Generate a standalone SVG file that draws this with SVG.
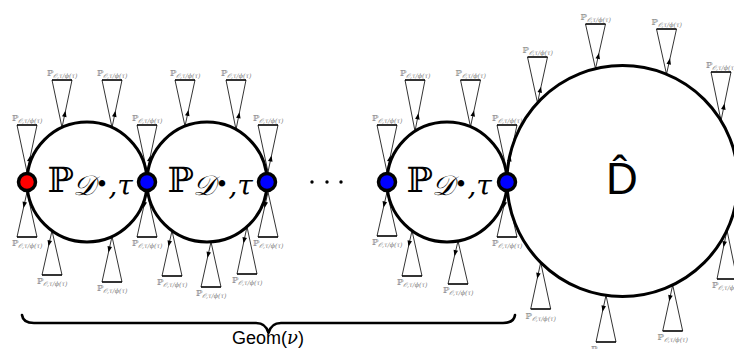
<svg xmlns="http://www.w3.org/2000/svg" width="734" height="349" viewBox="0 0 734 349">
<style>
.bg{fill:#fff}
.c{fill:none;stroke:#000;stroke-width:3}
.nd{stroke:#000;stroke-width:3.5}
.red{fill:#f00}
.blue{fill:#00f}
.s{fill:none;stroke:#000;stroke-width:0.8}
.a{marker-mid:url(#ah)}
.b{fill:none;stroke:#000;stroke-width:1.6}
.lb{font-family:"DejaVu Serif","DejaVu Sans",serif;fill:#808080;text-anchor:middle}
.lp{font-size:8.5px}
.ls{font-size:6.3px;font-style:italic}
.ml{font-family:"DejaVu Serif","DejaVu Sans",serif;fill:#000;text-anchor:middle}
.mp{font-size:35px}
.ms{font-size:28px;font-style:italic}
.mb{font-size:22px}
.dot{fill:#000}
.brace{fill:none;stroke:#000;stroke-width:2.6;stroke-linecap:round;stroke-linejoin:round}
</style>
<defs>
<marker id="ah" viewBox="-6 -3 7 6" refX="0" refY="0" markerWidth="7" markerHeight="6" markerUnits="userSpaceOnUse" orient="auto">
<path d="M1,0 L-5,-2.3 L-5,2.3 Z" fill="#000"/>
</marker>
</defs>
<rect class="bg" width="734" height="349"/>

<g id="cones">
<path class="s" d="M17 125L27 172"/><path class="s a" d="M27 172L30.3 156.5L37 125"/><path class="b" d="M17 125H37"/>
<path class="s" d="M52 80L62 127.5"/><path class="s a" d="M62 127.5L65.3 111.8L72 80"/><path class="b" d="M52 80H72"/>
<path class="s" d="M102 80L112 127.5"/><path class="s a" d="M112 127.5L115.3 111.8L122 80"/><path class="b" d="M102 80H122"/>
<path class="s" d="M137 125L147 172"/><path class="s a" d="M147 172L150.3 156.5L157 125"/><path class="b" d="M137 125H157"/>
<path class="s" d="M175 80L185 126.2"/><path class="s a" d="M185 126.2L188.3 110.9L195 80"/><path class="b" d="M175 80H195"/>
<path class="s" d="M226 80L236 129.5"/><path class="s a" d="M236 129.5L239.3 113.2L246 80"/><path class="b" d="M226 80H246"/>
<path class="s" d="M258 125L268 172"/><path class="s a" d="M268 172L271.3 156.5L278 125"/><path class="b" d="M258 125H278"/>
<path class="s" d="M377 125L387 172"/><path class="s a" d="M387 172L390.3 156.5L397 125"/><path class="b" d="M377 125H397"/>
<path class="s" d="M405 80L415 131.2"/><path class="s a" d="M415 131.2L418.3 114.3L425 80"/><path class="b" d="M405 80H425"/>
<path class="s" d="M460.5 80L470.5 126.8"/><path class="s a" d="M470.5 126.8L473.8 111.4L480.5 80"/><path class="b" d="M460.5 80H480.5"/>
<path class="s" d="M497 125L507 172"/><path class="s a" d="M507 172L510.3 156.5L517 125"/><path class="b" d="M497 125H517"/>
<path class="s" d="M527.5 57L537.5 102.8"/><path class="s a" d="M537.5 102.8L540.8 87.7L547.5 57"/><path class="b" d="M527.5 57H547.5"/>
<path class="s" d="M585.5 24L595.5 68.7"/><path class="s a" d="M595.5 68.7L598.8 53.9L605.5 24"/><path class="b" d="M585.5 24H605.5"/>
<path class="s" d="M656.5 29L666.5 74.2"/><path class="s a" d="M666.5 74.2L669.8 59.3L676.5 29"/><path class="b" d="M656.5 29H676.5"/>
<path class="s" d="M711 72L721 120.7"/><path class="s a" d="M721 120.7L724.3 104.6L731 72"/><path class="b" d="M711 72H731"/>
<path class="s" d="M37 237L27 192"/><path class="s a" d="M27 192L23.7 206.9L17 237"/><path class="b" d="M17 237H37"/>
<path class="s" d="M62 275L52 230.7"/><path class="s a" d="M52 230.7L48.7 245.3L42 275"/><path class="b" d="M42 275H62"/>
<path class="s" d="M122 282L112 236.5"/><path class="s a" d="M112 236.5L108.7 251.5L102 282"/><path class="b" d="M102 282H122"/>
<path class="s" d="M157 237L147 192"/><path class="s a" d="M147 192L143.7 206.9L137 237"/><path class="b" d="M137 237H157"/>
<path class="s" d="M182 276L172 230.7"/><path class="s a" d="M172 230.7L168.7 245.6L162 276"/><path class="b" d="M162 276H182"/>
<path class="s" d="M221 287L211 241.9"/><path class="s a" d="M211 241.9L207.7 256.8L201 287"/><path class="b" d="M201 287H221"/>
<path class="s" d="M257 274L247 226.7"/><path class="s a" d="M247 226.7L243.7 242.3L237 274"/><path class="b" d="M237 274H257"/>
<path class="s" d="M278 237L268 192"/><path class="s a" d="M268 192L264.7 206.9L258 237"/><path class="b" d="M258 237H278"/>
<path class="s" d="M397 236L387 192"/><path class="s a" d="M387 192L383.7 206.5L377 236"/><path class="b" d="M377 236H397"/>
<path class="s" d="M422 276L412 230.7"/><path class="s a" d="M412 230.7L408.7 245.6L402 276"/><path class="b" d="M402 276H422"/>
<path class="s" d="M468 284L458 241"/><path class="s a" d="M458 241L454.7 255.2L448 284"/><path class="b" d="M448 284H468"/>
<path class="s" d="M517 237L507 192"/><path class="s a" d="M507 192L503.7 206.9L497 237"/><path class="b" d="M497 237H517"/>
<path class="s" d="M550.7 309L540.7 262.5"/><path class="s a" d="M540.7 262.5L537.4 277.8L530.7 309"/><path class="b" d="M530.7 309H550.7"/>
<path class="s" d="M616 342L606 295.3"/><path class="s a" d="M606 295.3L602.7 310.7L596 342"/><path class="b" d="M596 342H616"/>
<path class="s" d="M682.7 331L672.7 285"/><path class="s a" d="M672.7 285L669.4 300.2L662.7 331"/><path class="b" d="M662.7 331H682.7"/>
<path class="s" d="M737 279L727 230.2"/><path class="s a" d="M727 230.2L723.7 246.3L717 279"/><path class="b" d="M717 279H737"/>
</g>

<g id="cone-labels">
<text class="lb" x="27" y="121"><tspan class="lp">ℙ</tspan><tspan class="ls" dy="2">𝒪,τ/ϕ(τ)</tspan></text>
<text class="lb" x="62" y="76"><tspan class="lp">ℙ</tspan><tspan class="ls" dy="2">𝒪,τ/ϕ(τ)</tspan></text>
<text class="lb" x="112" y="76"><tspan class="lp">ℙ</tspan><tspan class="ls" dy="2">𝒪,τ/ϕ(τ)</tspan></text>
<text class="lb" x="147" y="121"><tspan class="lp">ℙ</tspan><tspan class="ls" dy="2">𝒪,τ/ϕ(τ)</tspan></text>
<text class="lb" x="185" y="76"><tspan class="lp">ℙ</tspan><tspan class="ls" dy="2">𝒪,τ/ϕ(τ)</tspan></text>
<text class="lb" x="236" y="76"><tspan class="lp">ℙ</tspan><tspan class="ls" dy="2">𝒪,τ/ϕ(τ)</tspan></text>
<text class="lb" x="268" y="121"><tspan class="lp">ℙ</tspan><tspan class="ls" dy="2">𝒪,τ/ϕ(τ)</tspan></text>
<text class="lb" x="387" y="121"><tspan class="lp">ℙ</tspan><tspan class="ls" dy="2">𝒪,τ/ϕ(τ)</tspan></text>
<text class="lb" x="415" y="76"><tspan class="lp">ℙ</tspan><tspan class="ls" dy="2">𝒪,τ/ϕ(τ)</tspan></text>
<text class="lb" x="470.5" y="76"><tspan class="lp">ℙ</tspan><tspan class="ls" dy="2">𝒪,τ/ϕ(τ)</tspan></text>
<text class="lb" x="507" y="121"><tspan class="lp">ℙ</tspan><tspan class="ls" dy="2">𝒪,τ/ϕ(τ)</tspan></text>
<text class="lb" x="537.5" y="53"><tspan class="lp">ℙ</tspan><tspan class="ls" dy="2">𝒪,τ/ϕ(τ)</tspan></text>
<text class="lb" x="595.5" y="20"><tspan class="lp">ℙ</tspan><tspan class="ls" dy="2">𝒪,τ/ϕ(τ)</tspan></text>
<text class="lb" x="666.5" y="25"><tspan class="lp">ℙ</tspan><tspan class="ls" dy="2">𝒪,τ/ϕ(τ)</tspan></text>
<text class="lb" x="721" y="68"><tspan class="lp">ℙ</tspan><tspan class="ls" dy="2">𝒪,τ/ϕ(τ)</tspan></text>
<text class="lb" x="27" y="246"><tspan class="lp">ℙ</tspan><tspan class="ls" dy="2">𝒪,τ/ϕ(τ)</tspan></text>
<text class="lb" x="52" y="284"><tspan class="lp">ℙ</tspan><tspan class="ls" dy="2">𝒪,τ/ϕ(τ)</tspan></text>
<text class="lb" x="112" y="291"><tspan class="lp">ℙ</tspan><tspan class="ls" dy="2">𝒪,τ/ϕ(τ)</tspan></text>
<text class="lb" x="147" y="246"><tspan class="lp">ℙ</tspan><tspan class="ls" dy="2">𝒪,τ/ϕ(τ)</tspan></text>
<text class="lb" x="172" y="285"><tspan class="lp">ℙ</tspan><tspan class="ls" dy="2">𝒪,τ/ϕ(τ)</tspan></text>
<text class="lb" x="211" y="296"><tspan class="lp">ℙ</tspan><tspan class="ls" dy="2">𝒪,τ/ϕ(τ)</tspan></text>
<text class="lb" x="247" y="283"><tspan class="lp">ℙ</tspan><tspan class="ls" dy="2">𝒪,τ/ϕ(τ)</tspan></text>
<text class="lb" x="268" y="246"><tspan class="lp">ℙ</tspan><tspan class="ls" dy="2">𝒪,τ/ϕ(τ)</tspan></text>
<text class="lb" x="387" y="245"><tspan class="lp">ℙ</tspan><tspan class="ls" dy="2">𝒪,τ/ϕ(τ)</tspan></text>
<text class="lb" x="412" y="285"><tspan class="lp">ℙ</tspan><tspan class="ls" dy="2">𝒪,τ/ϕ(τ)</tspan></text>
<text class="lb" x="458" y="293"><tspan class="lp">ℙ</tspan><tspan class="ls" dy="2">𝒪,τ/ϕ(τ)</tspan></text>
<text class="lb" x="507" y="246"><tspan class="lp">ℙ</tspan><tspan class="ls" dy="2">𝒪,τ/ϕ(τ)</tspan></text>
<text class="lb" x="540.7" y="319"><tspan class="lp">ℙ</tspan><tspan class="ls" dy="2">𝒪,τ/ϕ(τ)</tspan></text>
<text class="lb" x="606" y="352"><tspan class="lp">ℙ</tspan><tspan class="ls" dy="2">𝒪,τ/ϕ(τ)</tspan></text>
<text class="lb" x="672.7" y="340"><tspan class="lp">ℙ</tspan><tspan class="ls" dy="2">𝒪,τ/ϕ(τ)</tspan></text>
<text class="lb" x="727" y="288"><tspan class="lp">ℙ</tspan><tspan class="ls" dy="2">𝒪,τ/ϕ(τ)</tspan></text>
</g>

<g id="circle1"><circle class="c" cx="87" cy="182" r="60"/>
<text class="ml" x="90" y="192"><tspan class="mp">ℙ</tspan><tspan class="ms" dy="3">𝒟</tspan><tspan class="mb" dy="-3">•</tspan><tspan class="ms" dy="3">,τ</tspan></text></g>
<g id="circle2"><circle class="c" cx="207" cy="182" r="60"/>
<text class="ml" x="210" y="192"><tspan class="mp">ℙ</tspan><tspan class="ms" dy="3">𝒟</tspan><tspan class="mb" dy="-3">•</tspan><tspan class="ms" dy="3">,τ</tspan></text></g>
<g id="circle3"><circle class="c" cx="447" cy="182" r="60"/>
<text class="ml" x="449" y="192"><tspan class="mp">ℙ</tspan><tspan class="ms" dy="3">𝒟</tspan><tspan class="mb" dy="-3">•</tspan><tspan class="ms" dy="3">,τ</tspan></text></g>
<g id="bigcircle"><circle class="c" cx="622.5" cy="181" r="115.5"/>
<text x="622" y="194" font-family="'Liberation Sans',sans-serif" font-size="44" text-anchor="middle" fill="#000">D̂</text></g>

<g id="nodes">
<circle id="n0" class="nd red" cx="27" cy="182" r="8.5"/>
<circle id="n1" class="nd blue" cx="147" cy="182" r="8.5"/>
<circle id="n2" class="nd blue" cx="267" cy="182" r="8.5"/>
<circle id="n3" class="nd blue" cx="387" cy="182" r="8.5"/>
<circle id="n4" class="nd blue" cx="507" cy="182" r="8.5"/>
</g>

<g id="ellipsis">
<circle class="dot" cx="312" cy="182" r="1.7"/>
<circle class="dot" cx="327" cy="182" r="1.7"/>
<circle class="dot" cx="341" cy="182" r="1.7"/>
</g>

<g id="geom">
<path class="brace" d="M22 315Q23 323 34 323L256 323Q266 323 268.5 333Q271 323 281 323L503 323Q514 323 515 315"/>
<text x="268" y="344" font-family="'Liberation Sans',sans-serif" font-size="18" text-anchor="middle" fill="#000">Geom(<tspan font-family="'DejaVu Serif',serif" font-style="italic">ν</tspan>)</text>
</g>
</svg>
